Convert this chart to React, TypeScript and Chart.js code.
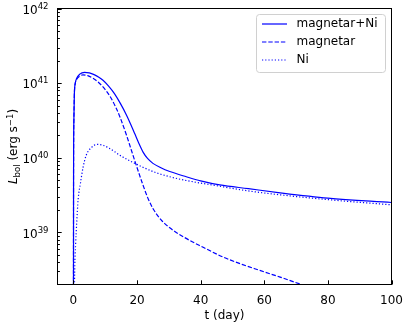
import React, { useEffect, useRef } from "react";
import { Chart, registerables } from "chart.js";

Chart.register(...registerables);

// ---- data (t in days, L in erg/s) ----
const T_TOTAL = [0, 0.05, 0.15, 0.3, 0.6, 1.0, 2.0, 3.5, 5.0, 6.5, 8.0, 9.3, 11.0, 12.9, 14.8, 16.7, 18.0, 19.3, 20.6, 21.9, 23.3, 25, 27.5, 30.3, 35.5, 40, 46, 55, 65, 80, 100];
const L_TOTAL = [1e37, 6.3e39, 3.2e40, 7.1e40, 1.0e41, 1.15e41, 1.32e41, 1.396e41, 1.37e41, 1.3e41, 1.2e41, 1.09e41, 9.2e40, 7.24e40, 5.31e40, 3.72e40, 2.82e40, 2.09e40, 1.55e40, 1.19e40, 9.77e39, 8.4e39, 7.33e39, 6.53e39, 5.56e39, 4.9e39, 4.32e39, 3.85e39, 3.39e39, 2.88e39, 2.51e39];

const T_MAG = [0, 0.05, 0.15, 0.3, 0.6, 1.0, 2.0, 3.0, 4.5, 6.5, 8.0, 9.3, 11.4, 13.5, 14.6, 16.7, 17.7, 19.3, 21.9, 23.5, 25, 27.5, 30.3, 35, 40.8, 47, 53, 58.6, 65, 72.5, 80];
const L_MAG = [1e37, 6.3e39, 3.2e40, 7.1e40, 1.0e41, 1.12e41, 1.24e41, 1.29e41, 1.26e41, 1.135e41, 1.01e41, 8.9e40, 6.76e40, 4.57e40, 3.55e40, 2.0e40, 1.48e40, 9.1e39, 4.27e39, 2.82e39, 2.09e39, 1.48e39, 1.15e39, 8.5e38, 6.3e38, 4.68e38, 3.72e38, 3.09e38, 2.51e38, 1.95e38, 1.55e38];

const T_NI = [0, 0.4, 0.7, 1.0, 1.5, 2.2, 3.0, 4.0, 5.5, 7.5, 9.5, 11.4, 13, 14.6, 17, 19.3, 22, 26, 30.3, 35, 45, 55, 70, 85, 100];
const L_NI = [1e37, 3.0e38, 7.0e38, 1.25e39, 2.8e39, 4.5e39, 7.3e39, 1.07e40, 1.35e40, 1.51e40, 1.46e40, 1.33e40, 1.2e40, 1.08e40, 9.44e39, 8.41e39, 7.4e39, 6.3e39, 5.56e39, 5.0e39, 4.22e39, 3.59e39, 3.02e39, 2.63e39, 2.34e39];

const SERIES_NAMES = ["magnetar+Ni", "magnetar", "Ni"];

const X_TICKS = [0, 20, 40, 60, 80, 100];
const Y_MAJOR_EXPONENTS = [39, 40, 41, 42];
const Y_MINOR_MULTIPLIERS = [2, 3, 4, 5, 6, 7, 8, 9];
const Y_MINOR_EXPONENTS = [38, 39, 40, 41];

const X_MIN = -5;
const X_MAX = 100;
const Y_MIN = 2e38;
const Y_MAX = 1e42;

const FONT = '"DejaVu Sans", sans-serif';
const BLUE = "#0000ff";
const DASH = [4.4, 1.9];
const DOT = [1.2, 2.0];

const pts = (t: number[], l: number[]) => t.map((x, i) => ({ x, y: l[i] }));

const decorPlugin = {
  id: "decor",
  afterDraw(chart: any) {
    const ctx = chart.ctx as CanvasRenderingContext2D;
    const { left, right, top, bottom } = chart.chartArea;
    const xs = chart.scales.x;
    const ys = chart.scales.y;
    ctx.save();
    // frame
    ctx.strokeStyle = "#000";
    ctx.lineWidth = 1;
    ctx.setLineDash([]);
    ctx.strokeRect(left, top, right - left, bottom - top);

    // x ticks (inward) + labels
    ctx.fillStyle = "#000";
    ctx.font = `12px ${FONT}`;
    ctx.textAlign = "center";
    ctx.textBaseline = "alphabetic";
    X_TICKS.forEach((v) => {
      const px = Math.round(xs.getPixelForValue(v)) + 0.5;
      ctx.beginPath();
      ctx.moveTo(px, bottom);
      ctx.lineTo(px, bottom - 4.2);
      ctx.stroke();
      ctx.fillText(String(v), xs.getPixelForValue(v), 304);
    });
    ctx.fillText("t (day)", (left + right) / 2, 318.5);

    // y minor ticks
    Y_MINOR_EXPONENTS.forEach((e) => {
      Y_MINOR_MULTIPLIERS.forEach((m) => {
        const v = m * Math.pow(10, e);
        if (v <= Y_MIN || v >= Y_MAX) return;
        const py = Math.round(ys.getPixelForValue(v)) + 0.5;
        ctx.beginPath();
        ctx.moveTo(left, py);
        ctx.lineTo(left + 2.4, py);
        ctx.stroke();
      });
    });
    // y major ticks + labels
    Y_MAJOR_EXPONENTS.forEach((e) => {
      const v = Math.pow(10, e);
      const yy = ys.getPixelForValue(v);
      const py = Math.round(yy) + 0.5;
      ctx.beginPath();
      ctx.moveTo(left, py);
      ctx.lineTo(left + 4.2, py);
      ctx.stroke();
      const sup = String(e);
      ctx.font = `8.5px ${FONT}`;
      const supW = ctx.measureText(sup).width;
      ctx.font = `12px ${FONT}`;
      const baseW = ctx.measureText("10").width;
      const xr = 48.5;
      ctx.textAlign = "left";
      ctx.fillText("10", xr - supW - baseW, yy + 5.3);
      ctx.font = `8.5px ${FONT}`;
      ctx.fillText(sup, xr - supW, yy + 0.2);
    });

    // y title (rotated)
    ctx.save();
    ctx.translate(13, (top + bottom) / 2);
    ctx.rotate(-Math.PI / 2);
    const parts: [string, string, number][] = [
      ["L", `italic 12px ${FONT}`, 0],
      ["bol", `8.5px ${FONT}`, 2.2],
      [" (erg s", `12px ${FONT}`, 0],
      ["\u22121", `8.5px ${FONT}`, -4.6],
      [")", `12px ${FONT}`, 0],
    ];
    let total = 0;
    parts.forEach(([s, f]) => {
      ctx.font = f;
      total += ctx.measureText(s).width;
    });
    let cx = -total / 2;
    ctx.textAlign = "left";
    ctx.textBaseline = "alphabetic";
    parts.forEach(([s, f, dy]) => {
      ctx.font = f;
      ctx.fillText(s, cx, 4.3 + dy);
      cx += ctx.measureText(s).width;
    });
    ctx.restore();

    // legend
    const lx0 = 256.5, ly0 = 14.5, lw = 129, lh = 58, r = 3;
    ctx.beginPath();
    ctx.moveTo(lx0 + r, ly0);
    ctx.lineTo(lx0 + lw - r, ly0);
    ctx.arcTo(lx0 + lw, ly0, lx0 + lw, ly0 + r, r);
    ctx.lineTo(lx0 + lw, ly0 + lh - r);
    ctx.arcTo(lx0 + lw, ly0 + lh, lx0 + lw - r, ly0 + lh, r);
    ctx.lineTo(lx0 + r, ly0 + lh);
    ctx.arcTo(lx0, ly0 + lh, lx0, ly0 + lh - r, r);
    ctx.lineTo(lx0, ly0 + r);
    ctx.arcTo(lx0, ly0, lx0 + r, ly0, r);
    ctx.closePath();
    ctx.fillStyle = "rgba(255,255,255,0.8)";
    ctx.fill();
    ctx.strokeStyle = "#d0d0d0";
    ctx.lineWidth = 1;
    ctx.stroke();

    const dashes = [[], DASH, DOT];
    const rowsY = [24, 42, 60];
    SERIES_NAMES.forEach((name, i) => {
      const y = rowsY[i];
      ctx.strokeStyle = BLUE;
      ctx.lineWidth = 1.2;
      ctx.setLineDash(dashes[i] as number[]);
      ctx.beginPath();
      ctx.moveTo(262, y);
      ctx.lineTo(287, y);
      ctx.stroke();
      ctx.setLineDash([]);
      ctx.fillStyle = "#000";
      ctx.font = `12px ${FONT}`;
      ctx.textAlign = "left";
      ctx.textBaseline = "middle";
      ctx.fillText(name, 296.5, y);
    });
    ctx.restore();
  },
};

export default function App() {
  const ref = useRef<HTMLCanvasElement | null>(null);
  useEffect(() => {
    if (!ref.current) return;
    const common = {
      borderColor: BLUE,
      borderWidth: 1.2,
      pointRadius: 0,
      fill: false,
      cubicInterpolationMode: "monotone" as const,
    };
    const chart = new Chart(ref.current, {
      type: "line",
      data: {
        datasets: [
          { ...common, label: SERIES_NAMES[0], data: pts(T_TOTAL, L_TOTAL) },
          { ...common, label: SERIES_NAMES[1], data: pts(T_MAG, L_MAG), borderDash: DASH },
          { ...common, label: SERIES_NAMES[2], data: pts(T_NI, L_NI), borderDash: DOT },
        ],
      },
      options: {
        animation: false,
        responsive: false,
        devicePixelRatio: 1,
        parsing: true,
        layout: { padding: { top: 8.5, right: 15.5, left: 0, bottom: 0 } },
        plugins: { legend: { display: false }, tooltip: { enabled: false } },
        scales: {
          x: {
            type: "linear",
            min: X_MIN,
            max: X_MAX,
            grid: { display: false },
            border: { display: false },
            ticks: { display: false },
            afterFit: (s: any) => {
              s.height = 39.5;
            },
          },
          y: {
            type: "logarithmic",
            min: Y_MIN,
            max: Y_MAX,
            grid: { display: false },
            border: { display: false },
            ticks: { display: false },
            afterFit: (s: any) => {
              s.width = 57.5;
            },
          },
        },
      },
      plugins: [decorPlugin],
    });
    return () => chart.destroy();
  }, []);
  return (
    <div style={{ position: "absolute", left: 0, top: 0, width: 407, height: 324, background: "#fff" }}>
      <canvas ref={ref} width={407} height={324} style={{ display: "block" }} />
    </div>
  );
}
